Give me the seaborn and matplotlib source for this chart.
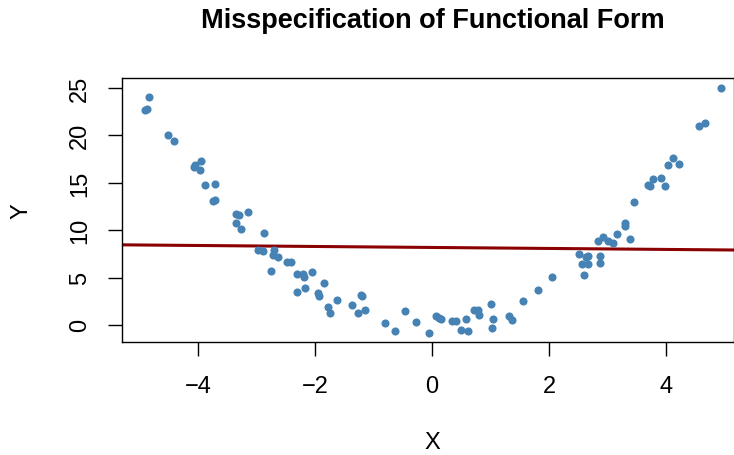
import matplotlib
matplotlib.use("Agg")
import matplotlib.pyplot as plt
import seaborn as sns
import pandas as pd

# points
x = [-4.91, -4.87, -4.84, -4.51, -4.41, -4.07, -4.05, -3.95, -3.97, -3.88,
     -3.71, -3.74, -3.71, -3.35, -3.30, -3.15, -3.35, -3.26, -2.87, -2.97,
     -2.89, -2.70, -2.72, -2.63, -2.48, -2.41, -2.75, -2.31, -2.21, -2.19,
     -2.05, -1.85, -2.31, -2.17, -1.95, -1.93, -1.78, -1.74, -1.62, -1.37,
     -1.26, -1.21, -1.20, -1.15, -0.80, -0.63, -0.46, -0.27, -0.05, 0.07,
     0.15, 0.12, 0.34, 0.41, 0.50, 0.62, 0.58, 0.72, 0.79, 0.80,
     1.01, 1.04, 1.03, 1.32, 1.37, 1.56, 1.81, 2.05, 2.51, 2.56,
     2.60, 2.67, 2.67, 2.63, 2.87, 2.87, 2.84, 2.92, 3.01, 3.09,
     3.16, 3.30, 3.30, 3.38, 3.45, 3.69, 3.73, 3.78, 3.91, 3.98,
     4.03, 4.12, 4.22, 4.56, 4.67, 4.94]
y = [22.7, 22.8, 24.0, 20.0, 19.4, 16.7, 16.9, 17.3, 16.3, 14.8,
     14.9, 13.1, 13.2, 11.7, 11.6, 11.9, 10.7, 10.1, 9.7, 7.9,
     7.8, 7.9, 7.4, 7.2, 6.6, 6.6, 5.7, 5.4, 5.4, 5.1,
     5.6, 4.4, 3.5, 3.9, 3.4, 3.1, 1.9, 1.3, 2.6, 2.1,
     1.3, 3.2, 3.0, 1.6, 0.2, -0.6, 1.5, 0.3, -0.8, 0.9,
     0.6, 0.7, 0.4, 0.4, -0.5, -0.6, 0.6, 1.6, 1.6, 1.1,
     2.2, 0.6, -0.3, 0.9, 0.5, 2.5, 3.7, 5.1, 7.5, 6.4,
     5.3, 7.3, 6.4, 7.2, 7.3, 6.5, 8.8, 9.3, 8.9, 8.6,
     9.6, 10.7, 10.4, 9.1, 13.0, 14.8, 14.7, 15.4, 15.5, 14.6,
     16.9, 17.6, 17.0, 21.0, 21.3, 25.0]

# fitted straight line (intercept, slope)
fit_intercept = 8.17
fit_slope = -0.052

x_ticks = [-4, -2, 0, 2, 4]
y_ticks = [0, 5, 10, 15, 20, 25]

df = pd.DataFrame({"X": x, "Y": y})

sns.set_style("ticks")
plt.rcParams["font.family"] = ["Liberation Sans", "DejaVu Sans"]

fig = plt.figure(figsize=(7.34, 4.56), dpi=100)
ax = fig.add_axes([0.166, 0.248, 0.834, 0.579])

sns.scatterplot(data=df, x="X", y="Y", color="steelblue", s=34,
                linewidth=0, ax=ax, zorder=3)
ax.axline((0, fit_intercept), slope=fit_slope, color="darkred", lw=2.2, zorder=2)

ax.set_xlim(-5.30, 5.16)
ax.set_ylim(-1.79, 26.05)
ax.set_xticks(x_ticks)
ax.set_yticks(y_ticks)
ax.set_xticklabels([str(v).replace("-", "\u2212") for v in x_ticks])
ax.set_yticklabels([str(v) for v in y_ticks], rotation=90, va="center")
ax.tick_params(axis="both", direction="out", length=10, width=1, labelsize=17,
               color="black", labelcolor="black")
ax.tick_params(axis="x", pad=14)
ax.tick_params(axis="y", pad=12)
for sp in ax.spines.values():
    sp.set_visible(True)
    sp.set_color("black")
    sp.set_linewidth(1)

ax.set_xlabel("")
ax.set_ylabel("")
fig.text(432 / 734, 1 - 443 / 456, "X", ha="center", va="center",
         fontsize=17, color="black")
fig.text(21 / 734, 1 - 211 / 456, "Y", ha="center", va="center",
         fontsize=17, color="black", rotation=90)
fig.text(433 / 734, 0.953, "Misspecification of Functional Form", ha="center",
         va="center", fontsize=19.5, fontweight="bold", color="black")

fig.savefig("out.png", dpi=100)
